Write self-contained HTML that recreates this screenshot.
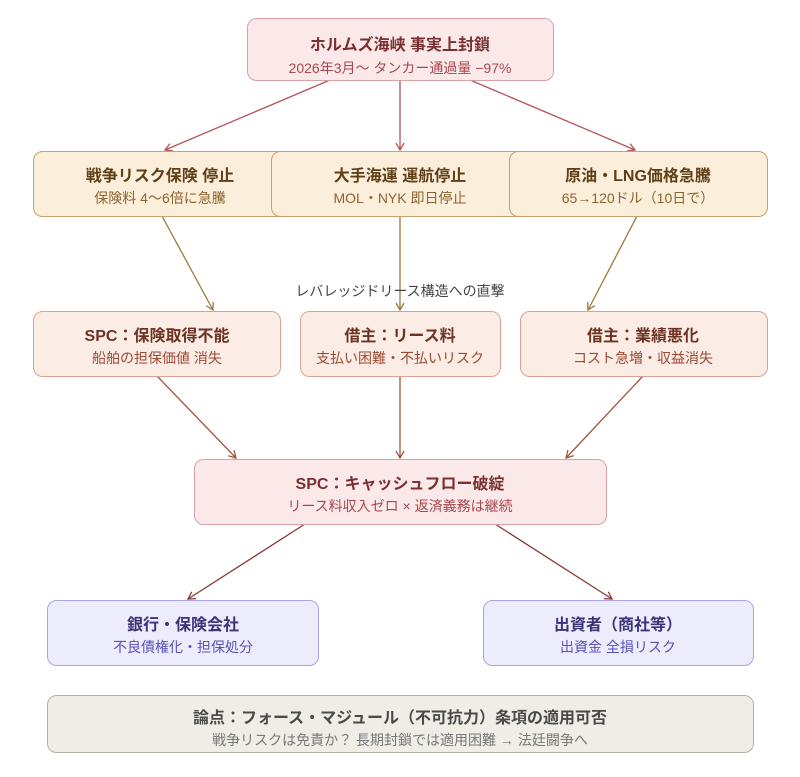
<!DOCTYPE html>
<html><head><meta charset="utf-8"><style>
body{margin:0;background:#fff;}
svg{display:block;font-family:"Liberation Sans","Noto Sans CJK JP",sans-serif;}
.t{font-size:16px;font-weight:bold;text-anchor:middle}
.s{font-size:14px;text-anchor:middle}
</style></head><body>
<svg width="800" height="777" viewBox="0 0 800 777">
<defs>
<marker id="a1" markerWidth="10" markerHeight="10" refX="8" refY="5" orient="auto" markerUnits="userSpaceOnUse"><path d="M1,1 L8,5 L1,9" fill="none" stroke="#b5535a" stroke-width="1.3"/></marker>
<marker id="a2" markerWidth="10" markerHeight="10" refX="8" refY="5" orient="auto" markerUnits="userSpaceOnUse"><path d="M1,1 L8,5 L1,9" fill="none" stroke="#9c7a3c" stroke-width="1.3"/></marker>
<marker id="a3" markerWidth="10" markerHeight="10" refX="8" refY="5" orient="auto" markerUnits="userSpaceOnUse"><path d="M1,1 L8,5 L1,9" fill="none" stroke="#a0553c" stroke-width="1.3"/></marker>
<marker id="a4" markerWidth="10" markerHeight="10" refX="8" refY="5" orient="auto" markerUnits="userSpaceOnUse"><path d="M1,1 L8,5 L1,9" fill="none" stroke="#8b3a3a" stroke-width="1.3"/></marker>
</defs>
<g stroke-width="1.3" fill="none">
<g stroke="#b5535a" marker-end="url(#a1)">
<line x1="330" y1="80" x2="165" y2="150"/><line x1="400" y1="80" x2="400" y2="150"/><line x1="470" y1="80" x2="635" y2="150"/></g>
<g stroke="#9c7a3c" marker-end="url(#a2)">
<line x1="162" y1="216" x2="213" y2="310"/><line x1="400" y1="216" x2="400" y2="310"/><line x1="637" y1="216" x2="588" y2="310"/></g>
<g stroke="#a0553c" marker-end="url(#a3)">
<line x1="157" y1="376" x2="236" y2="458"/><line x1="400" y1="376" x2="400" y2="458"/><line x1="643" y1="376" x2="566" y2="458"/></g>
<g stroke="#8b3a3a" marker-end="url(#a4)">
<line x1="305" y1="524" x2="188" y2="599"/><line x1="495" y1="524" x2="612" y2="599"/></g>
</g>
<rect x="247.5" y="18.5" width="306" height="62" rx="9" fill="#fbe9ea" stroke="#d9a0a5"/>
<text class="t" x="400" y="50" fill="#7a3030">ホルムズ海峡 事実上封鎖</text>
<text class="s" x="400" y="73" fill="#a8484e">2026年3月〜 タンカー通過量 −97%</text>

<g fill="#fbeedb" stroke="#c9a071">
<rect x="33.5" y="151.5" width="254" height="65" rx="9"/>
<rect x="271.5" y="151.5" width="258" height="65" rx="9"/>
<rect x="509.5" y="151.5" width="258" height="65" rx="9"/>
</g>
<text class="t" x="160" y="181" fill="#5e3f16">戦争リスク保険 停止</text>
<text class="s" x="160" y="203" fill="#8b6530">保険料 4〜6倍に急騰</text>
<text class="t" x="400" y="181" fill="#5e3f16">大手海運 運航停止</text>
<text class="s" x="400" y="203" fill="#8b6530">MOL・NYK 即日停止</text>
<text class="t" x="638" y="181" fill="#5e3f16">原油・LNG価格急騰</text>
<text class="s" x="638" y="203" fill="#8b6530">65→120ドル（10日で）</text>

<text x="400" y="296" font-size="14" text-anchor="middle" fill="#444">レバレッジドリース構造への直撃</text>

<g fill="#fbece6" stroke="#d7a58f">
<rect x="33.5" y="311.5" width="247" height="65" rx="9"/>
<rect x="300.5" y="311.5" width="200" height="65" rx="9"/>
<rect x="520.5" y="311.5" width="247" height="65" rx="9"/>
</g>
<text class="t" x="157" y="341" fill="#6e3322">SPC：保険取得不能</text>
<text class="s" x="157" y="363" fill="#9a4a32">船舶の担保価値 消失</text>
<text class="t" x="400" y="341" fill="#6e3322">借主：リース料</text>
<text class="s" x="400" y="363" fill="#9a4a32">支払い困難・不払いリスク</text>
<text class="t" x="643" y="341" fill="#6e3322">借主：業績悪化</text>
<text class="s" x="643" y="363" fill="#9a4a32">コスト急増・収益消失</text>

<rect x="194.5" y="459.5" width="412" height="65" rx="9" fill="#fbe9ea" stroke="#d9a0a5"/>
<text class="t" x="400" y="489" fill="#7a3030">SPC：キャッシュフロー破綻</text>
<text class="s" x="400" y="511" fill="#a8484e">リース料収入ゼロ × 返済義務は継続</text>

<g fill="#ececfc" stroke="#a7a3e6">
<rect x="47.5" y="600.5" width="271" height="65" rx="9"/>
<rect x="483.5" y="600.5" width="270" height="65" rx="9"/>
</g>
<text class="t" x="183" y="630" fill="#3a3478">銀行・保険会社</text>
<text class="s" x="183" y="652" fill="#5a50b8">不良債権化・担保処分</text>
<text class="t" x="618" y="630" fill="#3a3478">出資者（商社等）</text>
<text class="s" x="618" y="652" fill="#5a50b8">出資金 全損リスク</text>

<rect x="47.5" y="695.5" width="706" height="57" rx="9" fill="#f0ede7" stroke="#b5b0a5"/>
<text class="t" x="400" y="723" fill="#4a4a4a">論点：フォース・マジュール（不可抗力）条項の適用可否</text>
<text class="s" x="400" y="745" fill="#777">戦争リスクは免責か？ 長期封鎖では適用困難 → 法廷闘争へ</text>
</svg>
</body></html>
